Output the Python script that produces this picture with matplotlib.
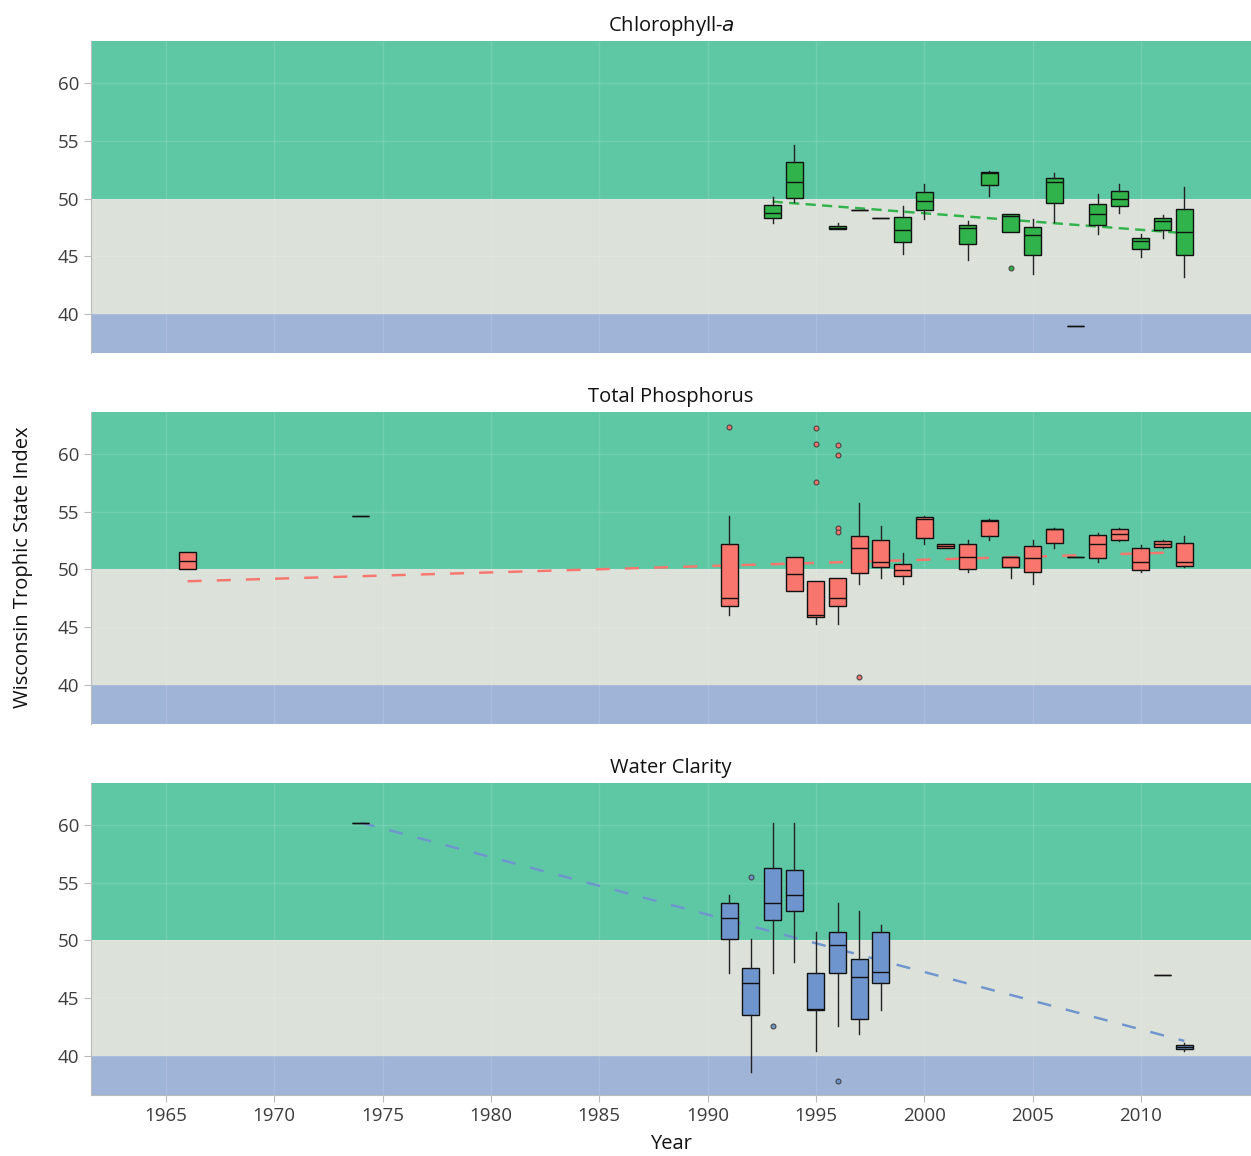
import matplotlib
matplotlib.use("Agg")
import matplotlib.pyplot as plt

plt.rcParams['font.family'] = ['Open Sans', 'DejaVu Sans']

# --- Chlorophyll-a: yearly box stats (whisker low, Q1, median, Q3, whisker high)
chl_years = [1993, 1994, 1996, 1997, 1998, 1999, 2000, 2002, 2003, 2004, 2005, 2006, 2007, 2008, 2009, 2010, 2011, 2012]
chl_lo  = [47.90, 49.73, 47.33, 49.00, 48.29, 45.19, 48.25, 44.68, 50.25, 47.13, 43.46, 47.94, 38.96, 46.89, 48.77, 44.97, 46.61, 43.18]
chl_q1  = [48.29, 50.07, 47.33, 49.00, 48.29, 46.21, 48.97, 46.03, 51.17, 47.13, 45.11, 49.64, 38.96, 47.73, 49.35, 45.60, 47.30, 45.14]
chl_med = [48.77, 51.43, 47.45, 49.00, 48.29, 47.30, 49.75, 47.45, 52.18, 48.46, 46.81, 51.40, 38.96, 48.66, 49.99, 46.30, 48.05, 47.13]
chl_q3  = [49.47, 53.16, 47.59, 49.00, 48.29, 48.37, 50.53, 47.73, 52.27, 48.66, 47.50, 51.80, 38.96, 49.52, 50.62, 46.61, 48.31, 49.09]
chl_hi  = [50.13, 54.63, 47.85, 49.00, 48.29, 49.38, 51.26, 48.03, 52.35, 48.70, 48.20, 52.21, 38.96, 50.39, 51.26, 46.89, 48.57, 51.02]
chl_out_years = [2004]
chl_out_vals = [43.96]
chl_trend_years = [1993, 2012]
chl_trend_vals = [49.73, 47.00]

# --- Total Phosphorus
tp_years = [1966, 1974, 1991, 1994, 1995, 1996, 1997, 1998, 1999, 2000, 2001, 2002, 2003, 2004, 2005, 2006, 2007, 2008, 2009, 2010, 2011, 2012]
tp_lo  = [50.00, 54.66, 46.10, 48.10, 45.32, 45.32, 48.74, 49.25, 48.74, 52.21, 51.87, 49.74, 52.53, 49.25, 48.74, 51.87, 51.09, 50.63, 52.50, 49.74, 51.84, 50.20]
tp_q1  = [50.00, 54.66, 46.81, 48.10, 45.90, 46.81, 49.71, 50.20, 49.45, 52.73, 51.87, 50.06, 52.90, 50.20, 49.80, 52.27, 51.09, 51.03, 52.56, 49.94, 51.98, 50.32]
tp_med = [50.75, 54.66, 47.50, 49.60, 46.06, 47.50, 51.87, 50.63, 49.97, 54.37, 52.04, 51.09, 54.17, 51.05, 51.03, 53.50, 51.09, 52.21, 53.05, 50.63, 52.24, 50.63]
tp_q3  = [51.49, 54.66, 52.21, 51.09, 48.97, 49.22, 52.87, 52.56, 50.49, 54.54, 52.18, 52.18, 54.31, 51.09, 52.01, 53.53, 51.09, 52.96, 53.51, 51.84, 52.47, 52.33]
tp_hi  = [51.55, 54.66, 54.60, 51.09, 48.97, 49.25, 55.80, 53.76, 51.44, 54.60, 52.18, 52.56, 54.37, 51.09, 52.53, 53.55, 51.09, 53.16, 53.60, 52.15, 52.56, 52.87]
tp_out_years = [1991, 1995, 1995, 1995, 1996, 1996, 1996, 1996, 1997]
tp_out_vals = [62.33, 62.24, 60.86, 57.59, 60.75, 59.89, 53.56, 53.22, 40.72]
tp_trend_years = [1966, 2012]
tp_trend_vals = [48.98, 51.50]

# --- Water Clarity
wc_years = [1974, 1991, 1992, 1993, 1994, 1995, 1996, 1997, 1998, 2011, 2012]
wc_lo  = [60.17, 47.19, 38.59, 47.19, 48.11, 40.46, 42.57, 41.93, 43.95, 47.01, 40.40]
wc_q1  = [60.17, 50.16, 43.58, 51.77, 52.58, 43.95, 47.16, 43.17, 46.29, 47.01, 40.58]
wc_med = [60.17, 51.95, 46.29, 53.25, 53.94, 44.04, 49.64, 46.87, 47.27, 47.01, 40.75]
wc_q3  = [60.17, 53.25, 47.65, 56.31, 56.10, 47.16, 50.71, 48.43, 50.77, 47.01, 40.92]
wc_hi  = [60.17, 53.91, 50.16, 60.17, 60.17, 50.71, 53.22, 52.55, 51.31, 47.01, 41.10]
wc_out_years = [1992, 1993, 1996]
wc_out_vals = [55.47, 42.57, 37.86]
wc_trend_years = [1974, 2012]
wc_trend_vals = [60.20, 41.30]

panels = [
    ("Chlorophyll-$\\it{a}$", chl_years, chl_lo, chl_q1, chl_med, chl_q3, chl_hi,
     chl_out_years, chl_out_vals, chl_trend_years, chl_trend_vals, "#2fb34a", (4.2, 2.6)),
    ("Total Phosphorus", tp_years, tp_lo, tp_q1, tp_med, tp_q3, tp_hi,
     tp_out_years, tp_out_vals, tp_trend_years, tp_trend_vals, "#f8766d", (5.8, 6.2)),
    ("Water Clarity", wc_years, wc_lo, wc_q1, wc_med, wc_q3, wc_hi,
     wc_out_years, wc_out_vals, wc_trend_years, wc_trend_vals, "#6f95ce", (5.8, 6.2)),
]

fig, axes = plt.subplots(3, 1, figsize=(12.51, 11.56), dpi=100, sharex=True)
fig.subplots_adjust(left=0.0727, right=1.0, top=1 - 41 / 1156, bottom=0.0528, hspace=0.189)

ylo, yhi = 36.62, 63.64
for i, (title, yrs, lo, q1, med, q3, hi, oy, ov, ty, tv, col, dash) in enumerate(panels):
    ax = axes[i]
    ax.axhspan(30, 40, color="#a0b4d8", zorder=0, lw=0)
    ax.axhspan(40, 50, color="#dce1da", zorder=0, lw=0)
    ax.axhspan(50, 70, color="#5ec8a4", zorder=0, lw=0)
    ax.grid(True, color="white", alpha=0.12, lw=1.0, zorder=0.5)
    ax.set_axisbelow(True)

    ax.plot(ty, tv, color=col, lw=1.75, dashes=dash, zorder=1)

    stats = []
    for k in range(len(yrs)):
        stats.append(dict(whislo=lo[k], q1=q1[k], med=med[k], q3=q3[k], whishi=hi[k], fliers=[]))
    ax.bxp(stats, positions=yrs, widths=0.78, patch_artist=True, showcaps=False,
           manage_ticks=False,
           boxprops=dict(facecolor=col, edgecolor="#111111", lw=1.0),
           medianprops=dict(color="#111111", lw=1.0),
           whiskerprops=dict(color="#222222", lw=1.0), zorder=2)
    ax.plot(oy, ov, "o", ms=3.5, mfc=col, mec="#444444", mew=0.8, zorder=3)

    ax.set_title(title, fontsize=14.5, color="#111111", pad=7)
    ax.set_ylim(ylo, yhi)
    ax.set_xlim(1961.54, 2015.08)
    ax.set_yticks([40, 45, 50, 55, 60])
    ax.set_xticks(range(1965, 2015, 5))
    for s in ["top", "right", "bottom"]:
        ax.spines[s].set_visible(False)
    ax.spines["left"].set_color("#bbbbbb")
    ax.tick_params(axis="y", colors="#bbbbbb", labelcolor="#3c3c3c", labelsize=13.5, length=5)
    ax.tick_params(axis="x", length=0)

axes[2].spines["bottom"].set_visible(True)
axes[2].spines["bottom"].set_color("#bbbbbb")
axes[2].tick_params(axis="x", colors="#bbbbbb", labelcolor="#3c3c3c", labelsize=13.5, length=5)
axes[2].set_xlabel("Year", fontsize=14.5, color="#111111", labelpad=7)

fig.text(0.018, 0.5095, "Wisconsin Trophic State Index", rotation=90, fontsize=14.5,
         color="#111111", ha="center", va="center")

fig.savefig("out.png", dpi=100)
